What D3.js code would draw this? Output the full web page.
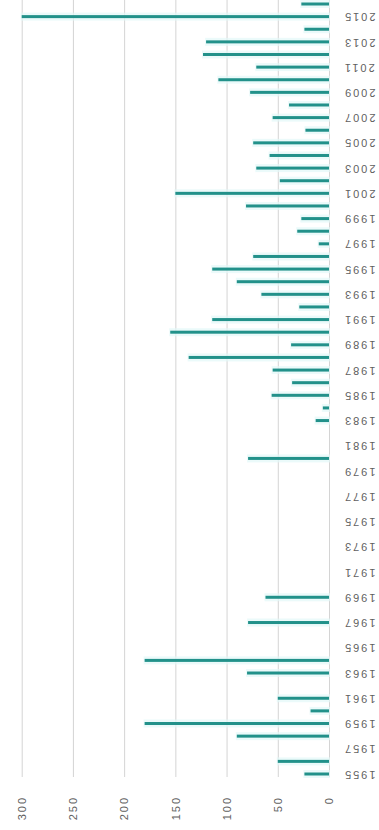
<!DOCTYPE html>
<html>
<head>
<meta charset="utf-8">
<script src="https://cdn.jsdelivr.net/npm/d3@7"></script>
<style>
  body { margin: 0; background: #ffffff; }
  svg { display: block; }
</style>
</head>
<body>
<svg id="chart" width="379" height="830"></svg>
<script>
// Annual values, one per year from 1955 to 2016
const years = [
  1955, 1956, 1957, 1958, 1959, 1960, 1961, 1962, 1963, 1964,
  1965, 1966, 1967, 1968, 1969, 1970, 1971, 1972, 1973, 1974,
  1975, 1976, 1977, 1978, 1979, 1980, 1981, 1982, 1983, 1984,
  1985, 1986, 1987, 1988, 1989, 1990, 1991, 1992, 1993, 1994,
  1995, 1996, 1997, 1998, 1999, 2000, 2001, 2002, 2003, 2004,
  2005, 2006, 2007, 2008, 2009, 2010, 2011, 2012, 2013, 2014,
  2015, 2016
];
const values = [
  24, 50, 0, 90, 180, 18, 50, 0, 80, 180,
  0, 0, 79, 0, 62, 0, 0, 0, 0, 0,
  0, 0, 0, 0, 0, 79, 0, 0, 13, 6,
  56, 36, 55, 137, 37, 155, 114, 29, 66, 90,
  114, 74, 10, 31, 27, 81, 150, 48, 71, 58,
  74, 23, 55, 39, 77, 108, 71, 123, 120, 24,
  300, 27
];
// Axis tick labels
const yearTicks = [
  1955, 1957, 1959, 1961, 1963, 1965, 1967, 1969, 1971, 1973,
  1975, 1977, 1979, 1981, 1983, 1985, 1987, 1989, 1991, 1993,
  1995, 1997, 1999, 2001, 2003, 2005, 2007, 2009, 2011, 2013, 2015
];
const valueTicks = [0, 50, 100, 150, 200, 250, 300];

const data = years.map((yr, i) => ({ year: yr, value: values[i] }));

const svg = d3.select("#chart");
const barColor = "#22918a";
const gridColor = "#d4d4d4";
const textColor = "#5f5f5f";
const font = "'Liberation Sans', Arial, sans-serif";

// Value axis runs right-to-left, years run bottom-to-top
const x = d3.scaleLinear().domain([0, 300]).range([329, 21.7]);
const y = d3.scalePoint().domain(years).range([774, 4]);

const gridBottom = 777;

// Value gridlines and rotated labels
svg.append("g")
  .attr("transform", `translate(0,${gridBottom})`)
  .call(d3.axisBottom(x).tickValues(valueTicks).tickSize(-(gridBottom + 10)).tickFormat(d3.format("d")))
  .call(g => g.select(".domain").remove())
  .call(g => g.selectAll(".tick line").attr("stroke", gridColor).attr("stroke-width", 1))
  .call(g => g.selectAll(".tick text")
    .attr("transform", "rotate(-90)")
    .attr("x", -19)
    .attr("y", 0)
    .attr("dy", "0.35em")
    .attr("text-anchor", "end")
    .attr("fill", textColor)
    .style("font-family", font)
    .style("font-size", "11px")
    .style("letter-spacing", "2px"));

// Light halo under each bar
svg.append("g")
  .selectAll("rect")
  .data(data.filter(d => d.value > 0))
  .join("rect")
  .attr("x", d => x(d.value) - 1)
  .attr("y", d => y(d.year) - 4)
  .attr("width", d => x(0) - x(d.value) + 2)
  .attr("height", 8)
  .attr("fill", "#e3f8f8")
  .attr("opacity", 0.7);

// Bars
svg.append("g")
  .selectAll("rect")
  .data(data.filter(d => d.value > 0))
  .join("rect")
  .attr("x", d => x(d.value))
  .attr("y", d => y(d.year) - 1.5)
  .attr("width", d => x(0) - x(d.value))
  .attr("height", 3)
  .attr("fill", barColor);

// Year labels, turned upside down
svg.append("g")
  .attr("transform", `translate(${x(0)},0)`)
  .call(d3.axisRight(y).tickValues(yearTicks).tickSize(0).tickFormat(d3.format("d")))
  .call(g => g.select(".domain").remove())
  .call(g => g.selectAll(".tick text")
    .attr("transform", "rotate(180)")
    .attr("x", -14)
    .attr("y", 0)
    .attr("dy", "0.35em")
    .attr("text-anchor", "end")
    .attr("fill", textColor)
    .style("font-family", font)
    .style("font-size", "11px")
    .style("letter-spacing", "2px"));
</script>
</body>
</html>
